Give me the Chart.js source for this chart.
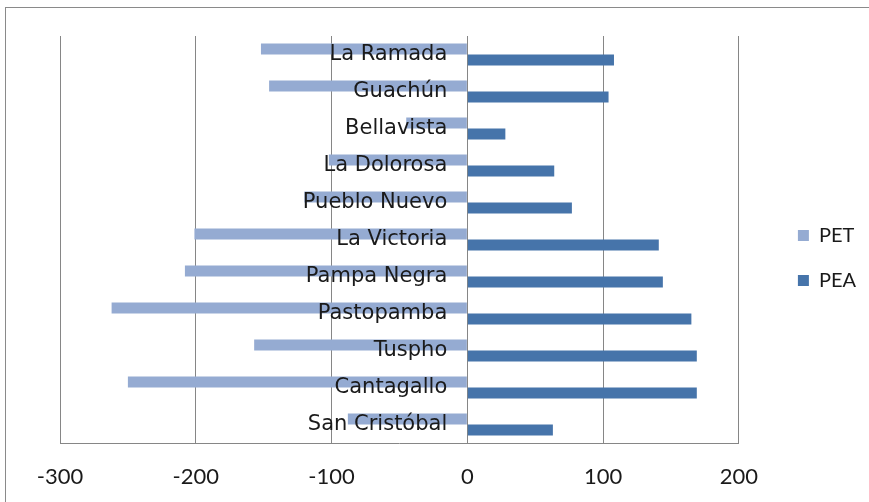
<!DOCTYPE html>
<html>
<head>
<meta charset="utf-8">
<script src="https://cdn.jsdelivr.net/npm/chart.js@4/dist/chart.umd.min.js"></script>
<style>
    html, body { margin: 0; padding: 0; background: #fff; overflow: hidden; }
    #wrap { position: relative; width: 869px; height: 502px; }
    #frame {
        position: absolute; left: 5px; top: 7px; width: 900px; height: 600px;
        border: 1px solid #8a8a8a; pointer-events: none;
    }
</style>
</head>
<body>
<div id="wrap">
    <canvas id="chart"></canvas>
    <div id="frame"></div>
</div>
<script>
// categories, top to bottom as in the picture
const categories = ['La Ramada', 'Guachún', 'Bellavista', 'La Dolorosa', 'Pueblo Nuevo',
    'La Victoria', 'Pampa Negra', 'Pastopamba', 'Tuspho', 'Cantagallo', 'San Cristóbal'];

// PET is drawn to the left (negative), PEA to the right
const petValues = [-152, -146, -45, -102, -120, -201, -208, -262, -157, -250, -88];
const peaValues = [108, 104, 28, 64, 77, 141, 144, 165, 169, 169, 63];

// x axis ticks
const xMin = -300;
const xMax = 200;
const xStep = 100;

const gridColor = '#868686';
const textColor = '#1a1a1a';

const ctx = document.getElementById('chart').getContext('2d');

new Chart(ctx, {
    type: 'bar',
    data: {
        labels: categories,
        datasets: [
            {
                label: 'PET',
                data: petValues,
                backgroundColor: '#95abd2',
                borderWidth: 0,
                categoryPercentage: 0.6,
                barPercentage: 1.0
            },
            {
                label: 'PEA',
                data: peaValues,
                backgroundColor: '#4674aa',
                borderWidth: 0,
                categoryPercentage: 0.6,
                barPercentage: 1.0
            }
        ]
    },
    options: {
        indexAxis: 'y',
        responsive: true,
        maintainAspectRatio: false,
        animation: false,
        layout: {
            padding: { left: 60, top: 36, right: 3, bottom: 0 }
        },
        scales: {
            x: {
                min: xMin,
                max: xMax,
                ticks: {
                    stepSize: xStep,
                    color: textColor,
                    padding: 21,
                    font: { family: 'Lato', size: 22 }
                },
                grid: {
                    color: gridColor,
                    lineWidth: 1,
                    drawTicks: false
                },
                border: { display: true, color: gridColor, width: 1 },
                afterFit: (scale) => { scale.height = 59; }  // plot bottom at 443
            },
            y: {
                position: { x: -14.8 },  // labels sit just left of the zero line
                grid: { display: false, drawTicks: false },
                border: { display: false },
                ticks: {
                    z: 1,                // labels over the bars, as in the original
                    color: textColor,
                    padding: 0,
                    font: { family: 'DejaVu Sans', size: 21 }
                }
            },
            // empty axis that only makes room between the plot and the legend
            yPad: {
                type: 'linear',
                axis: 'y',
                position: 'right',
                grid: { display: false, drawTicks: false },
                border: { display: false },
                ticks: { display: false },
                afterFit: (scale) => { scale.width = 34; }
            }
        },
        plugins: {
            legend: {
                display: true,
                position: 'right',
                align: 'start',
                // blank title only pushes the two entries down to mid height
                title: {
                    display: true,
                    text: ' ',
                    font: { size: 10 },
                    padding: { top: 0, bottom: 152.5 }
                },
                labels: {
                    boxWidth: 11,
                    boxHeight: 11,
                    padding: 25,
                    color: textColor,
                    font: { family: 'Lato', size: 20 }
                }
            },
            tooltip: { enabled: false }
        }
    }
});
</script>
</body>
</html>
